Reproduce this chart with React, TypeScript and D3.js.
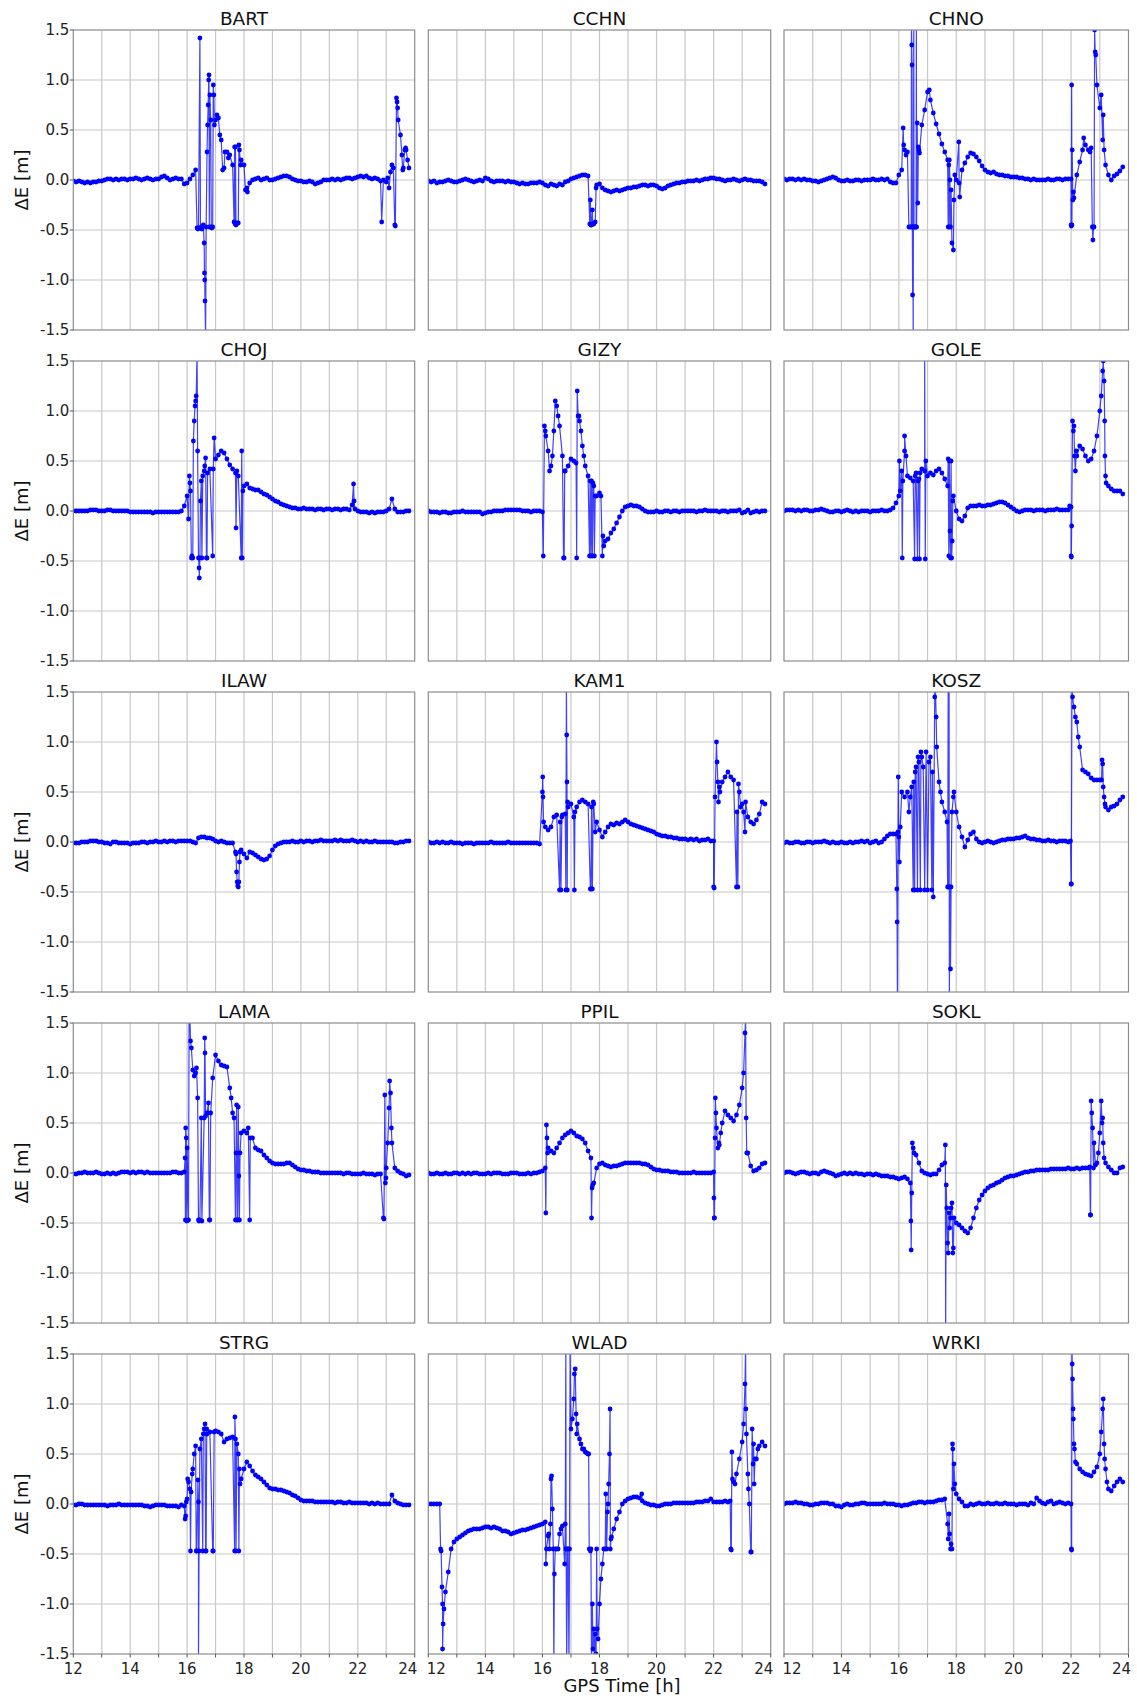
import React from 'react';
import * as d3 from 'd3';

// GNSS east-component residuals, one panel per station.
// Base series sampled every 0.1 h from 12.0 h to 23.8 h (values in cm),
// extra points (t [h], cm) hold spikes / outliers read from the plot.

const stations = ['BART', 'CCHN', 'CHNO', 'CHOJ', 'GIZY', 'GOLE', 'ILAW', 'KAM1', 'KOSZ', 'LAMA', 'PPIL', 'SOKL', 'STRG', 'WLAD', 'WRKI'];

const bartBase = [-1,-2,-1,-2,-3,-2,-3,-2,-2,-1, -1,0,1,1,0,1,0,1,1,0, 1,1,2,1,0,1,2,1,0,1, 1,3,4,2,0,1,2,1,1,-4,
  -3,1,5,10,-48,-47,-63,28,85,-47, 60,62,40,12,28,25,15,33,-43,20, 15,-8,-3,0,1,2,0,1,2,0, 0,1,2,3,4,4,3,1,0,-1,
  -1,-2,-2,-1,-2,-4,-3,-2,0,0, 0,1,0,1,0,1,2,2,1,2, 3,4,3,4,2,1,2,1,-1,0, -2,-8,15,-45,72,45,12,30,12];
const bartExtra = [[16.35,-48],[16.38,-49],[16.45,142],[16.47,-48],[16.52,-49],[16.57,-45],[16.61,-93],[16.62,-100],[16.63,-121],[16.65,-160],
  [16.67,-47],[16.72,55],[16.74,75],[16.76,100],[16.77,105],[16.78,-47],[16.83,60],[16.85,-47],[16.87,-48],[16.92,95],[16.94,85],[16.96,55],
  [17.05,65],[17.15,45],[17.25,10],[17.33,28],[17.45,22],[17.65,-42],[17.67,33],[17.69,-44],[17.72,-45],[17.75,-43],[17.82,35],[17.84,30],
  [17.88,15],[18.05,-10],[18.12,-12],[22.84,-42],[23.05,2],[23.15,8],[23.25,12],[23.32,-46],[23.36,82],[23.38,78],[23.42,60],[23.55,25],
  [23.58,10],[23.65,30],[23.68,32],[23.75,20]];

const cchnBase = [-1,-2,-1,-3,-2,-2,-1,0,-1,-2, -2,-1,0,1,0,-1,-2,-1,0,-1, 2,1,-1,-2,-1,-1,-1,-2,-1,-2, -2,-3,-4,-3,-4,-4,-3,-3,-3,-2,
  -3,-5,-6,-4,-5,-6,-4,-5,-2,-1, 1,2,3,4,5,5,4,-45,-44,-5, -4,-8,-10,-11,-12,-11,-10,-11,-10,-9, -8,-8,-7,-7,-6,-5,-5,-6,-5,-5,
  -6,-8,-9,-8,-6,-5,-4,-3,-3,-2, -2,-1,-1,-1,0,-1,0,1,1,2, 2,1,1,0,-1,0,0,1,0,-1, 0,1,0,0,-1,-1,-1,-2,-4];
const cchnExtra = [[17.66,-44],[17.68,-20],[17.72,-45],[17.75,-30],[17.76,-44],[17.85,-42],[17.88,-8]];

const chnoBase = [1,0,1,1,0,1,0,1,0,0, -1,-1,-2,-1,0,1,2,3,2,0, -1,-1,0,-1,-1,0,0,-1,0,0, 0,1,0,0,1,0,1,-2,-3,-3,
  5,10,30,28,-47,-160,-47,30,55,70, 88,80,67,56,46,36,28,20,-47,-70, 0,-3,10,17,23,27,26,23,19,14, 10,8,7,8,6,5,5,4,4,3,
  3,3,2,2,1,1,0,1,0,0, 0,0,1,0,0,1,1,0,1,1, 1,-18,5,18,30,35,30,32,-47,95, 72,40,15,5,0,4,6,9,13];
const chnoExtra = [[16.15,52],[16.17,35],[16.25,25],[16.35,-47],[16.43,-47],[16.44,160],[16.45,135],[16.46,115],[16.47,-47],[16.48,-115],
  [16.49,-47],[16.52,160],[16.53,-47],[16.55,-47],[16.58,-47],[16.61,160],[16.62,-47],[16.64,57],[16.66,-23],[16.68,33],[16.72,27],[17.06,90],
  [17.72,-47],[17.74,15],[17.75,-47],[17.76,20],[17.78,0],[17.82,-10],[17.85,-63],[17.92,-20],[17.95,5],[18.09,38],[18.12,-17],
  [22.0,-45],[22.01,-46],[22.02,95],[22.03,-45],[22.04,30],[22.06,-20],[22.08,-12],[22.44,42],[22.66,28],[22.74,-47],[22.76,-60],[22.78,-47],
  [22.82,150],[22.84,128],[22.86,125],[23.05,85],[23.12,65],[23.15,30]];

const chojBase = [0,0,0,0,0,0,1,1,1,0, 0,0,1,1,0,0,0,0,0,0, -1,-1,-1,-1,-1,-1,-1,-1,-2,-1, -1,-1,-1,-1,-1,-1,-1,-1,0,5,
  15,28,-47,110,-47,30,40,-47,42,-45, 52,56,60,58,52,46,42,38,35,-47, 25,27,23,22,21,21,19,17,16,14, 12,10,9,7,6,5,4,3,3,2,
  2,3,2,2,2,1,2,2,1,2, 2,1,2,2,1,2,2,1,6,2, 0,-1,-1,-1,-2,-1,-2,-1,-1,-1, 0,2,12,2,-1,-1,-1,0,0];
const chojExtra = [[16.05,-8],[16.08,35],[16.12,20],[16.15,-47],[16.17,-45],[16.22,70],[16.25,90],[16.28,105],[16.32,115],[16.35,160],
  [16.37,60],[16.42,-57],[16.43,-67],[16.45,-47],[16.47,10],[16.52,-47],[16.55,35],[16.62,45],[16.65,53],[16.68,-47],[16.72,38],[16.92,42],
  [16.95,73],[17.72,-17],[17.75,40],[17.92,60],[17.94,-47],[17.96,20],[21.85,27],[21.87,10]];

const gizyBase = [0,-1,-1,-1,-2,-1,-1,-2,-2,-1, -1,-1,0,-1,-1,-1,-1,-1,-1,-3, -2,-1,-1,0,0,0,0,1,1,1, 1,1,1,0,0,0,-1,0,0,0,
  -1,80,60,45,80,105,85,55,40,45, 52,50,-47,90,65,45,35,-45,25,15, 18,-45,-30,-28,-22,-18,-12,-6,0,4, 5,6,5,5,4,2,0,-1,-1,-1,
  0,-1,-1,0,0,-1,0,0,-1,0, 0,0,0,0,-1,0,0,1,0,0, 0,0,-1,0,0,-1,0,0,0,1, -2,-1,1,-2,-1,0,-1,0,0];
const gizyExtra = [[16.03,-45],[16.07,85],[16.12,75],[16.25,40],[16.35,55],[16.45,110],[16.55,95],[16.74,-47],[16.76,-47],[16.78,40],
  [17.18,48],[17.22,120],[17.25,95],[17.28,95],[17.35,80],[17.45,55],[17.65,-45],[17.67,30],[17.72,30],[17.75,-45],[17.77,28],[17.82,-45],
  [17.85,15],[18.05,15],[18.12,-25],[18.15,-35]];

const goleBase = [0,1,1,1,0,1,0,1,1,0, 0,1,1,2,1,0,-1,-1,0,0, -1,0,1,0,-1,0,-1,0,0,0, -1,0,0,0,1,0,0,1,3,8,
  15,40,60,35,33,30,38,32,42,40, 35,38,36,40,42,38,32,25,-47,15, 0,-8,-10,-5,3,5,5,5,6,5, 5,6,6,7,8,9,9,8,6,4,
  2,0,-1,0,1,1,1,0,1,1, 1,0,1,1,1,2,1,1,1,1, 4,85,55,65,62,55,50,52,60,75, 100,140,35,25,22,20,20,20,17];
const goleExtra = [[16.02,50],[16.05,20],[16.12,-47],[16.14,30],[16.2,75],[16.25,55],[16.55,-48],[16.57,35],[16.65,-48],[16.67,30],
  [16.72,-48],[16.74,38],[16.9,160],[16.92,-48],[16.94,50],[17.72,52],[17.74,-45],[17.76,50],[17.78,-20],[17.82,50],[17.84,-47],[17.86,-30],
  [17.88,10],[21.95,5],[22.0,-45],[22.01,-46],[22.02,-15],[22.05,90],[22.08,80],[22.12,55],[22.15,40],[22.18,60],[23.05,115],[23.12,150],
  [23.15,130],[23.17,90],[23.18,55],[23.22,28]];

const ilawBase = [-1,-1,-1,0,0,0,1,1,1,0, 0,-1,-1,-2,0,0,-1,-1,-1,-1, -2,-1,-1,-1,0,0,-1,0,0,1, 0,0,1,0,1,1,0,1,1,1,
  1,1,0,-1,4,5,5,4,4,3, 1,0,1,0,-1,-1,-1,-10,-45,-8, -12,-16,-10,-11,-13,-15,-17,-18,-17,-14, -8,-4,-2,-1,0,0,0,1,0,0,
  1,0,1,1,0,1,1,2,1,1, 1,1,2,1,2,1,1,1,2,1, 0,1,0,1,0,0,1,0,0,0, 0,0,0,-1,-1,0,0,1,1];
const ilawExtra = [[17.72,-12],[17.74,-30],[17.76,-40],[17.78,-44],[17.82,-40],[17.84,-20],[17.86,-10]];

const kam1Base = [0,-1,-1,0,-1,0,-1,-1,0,-1, -1,-1,-2,-1,-1,-1,-2,-1,-1,-1, -1,-1,0,-1,-1,-1,-1,-1,0,-1, -1,-1,-1,-1,-1,-1,-1,-1,-1,-2,
  50,15,12,15,25,27,-48,27,28,35, 38,25,35,40,42,40,38,-47,38,20, 12,5,10,15,18,17,19,18,20,22, 20,18,17,16,15,14,13,12,11,10,
  8,7,6,6,5,5,4,4,3,3, 3,2,3,2,3,1,2,2,3,1, 1,100,55,60,65,70,65,62,-45,50, 38,10,25,20,18,22,28,40,38];
const kam1Extra = [[16.01,65],[16.02,45],[16.04,20],[16.62,20],[16.65,-48],[16.68,25],[16.82,-48],[16.84,160],[16.85,107],[16.86,60],
  [16.87,-48],[16.88,40],[17.12,-48],[17.14,30],[17.68,-47],[17.72,35],[17.75,-47],[17.78,40],[17.85,10],[22.0,-45],[22.02,-46],[22.05,45],
  [22.12,80],[22.15,60],[22.17,40],[22.22,50],[22.82,30],[22.85,-45],[22.87,58],[22.95,35],[23.05,30],[23.12,40]];

const koszBase = [-1,0,-1,-1,0,0,-1,-1,0,0, -1,0,0,0,1,0,-1,0,-1,-1, 0,-1,-1,0,-1,0,0,1,0,1, -1,0,1,-1,0,3,6,8,8,8,
  5,50,45,50,45,-48,75,80,85,-48, -48,85,-55,125,60,40,30,-45,-127,45, 30,15,5,-5,2,8,10,3,0,-1, 0,1,0,-1,0,1,2,2,3,3,
  3,4,4,5,6,4,3,3,2,2, 1,1,2,1,1,0,1,1,1,0, -42,135,120,95,72,70,68,64,62,62, 62,78,35,32,35,36,38,42,45];
const koszExtra = [[15.93,-47],[15.94,-80],[15.95,-160],[15.97,10],[15.98,65],[16.02,-20],[16.05,15],[16.35,30],[16.45,55],[16.52,60],
  [16.55,-48],[16.57,70],[16.65,-48],[16.67,85],[16.75,-48],[16.77,90],[16.85,75],[16.95,90],[17.05,80],[17.15,-48],[17.17,70],[17.25,145],
  [17.27,160],[17.32,95],[17.45,50],[17.68,20],[17.72,160],[17.73,-45],[17.75,160],[17.76,-160],[17.78,-45],[17.82,-45],[17.85,30],
  [17.92,50],[21.98,1],[22.01,-42],[22.03,160],[22.05,145],[22.15,125],[22.25,105],[23.06,62],[23.08,82],[23.12,55],[23.15,45],[23.18,38]];

const lamaBase = [-1,-1,0,0,1,0,0,0,1,0, -1,-1,0,-1,0,-1,0,1,1,1, 0,1,0,1,1,0,1,0,0,0, 0,0,0,0,0,1,1,0,0,1,
  25,155,103,100,-47,55,55,60,-47,95, 118,112,108,107,106,85,60,-47,66,40, 42,40,-47,35,25,23,22,18,15,12, 10,9,9,9,9,10,10,8,6,4,
  3,3,2,2,1,1,1,0,0,0, 0,0,0,0,0,-1,0,0,-1,-1, -1,-1,0,-1,-1,-1,-2,-1,-1,-45, 5,65,30,5,2,0,-1,-3,-2];
const lamaExtra = [[15.93,15],[15.94,-47],[15.95,45],[15.97,35],[15.99,-48],[16.05,-47],[16.07,160],[16.12,132],[16.15,125],[16.25,97],
  [16.33,105],[16.37,75],[16.42,-48],[16.45,-47],[16.52,-48],[16.62,135],[16.63,120],[16.65,57],[16.75,70],[16.78,-47],[16.83,60],[17.55,75],
  [17.65,55],[17.72,20],[17.74,68],[17.76,-47],[17.78,-47],[17.82,-3],[17.84,-47],[17.86,20],[18.15,45],[18.22,35],[22.92,-46],[22.95,78],
  [22.97,-10],[22.99,-5],[23.05,30],[23.12,92],[23.15,80],[23.18,45]];

const ppilBase = [0,-1,-1,0,-1,-1,0,-1,-1,0, 0,-1,0,-1,0,-1,0,0,-1,-1, -1,0,-1,0,0,0,-1,-1,-1,0, 0,0,-1,-1,-1,0,-1,0,0,1,
  2,5,25,22,20,25,30,35,38,40, 42,40,37,36,34,30,22,15,-10,5, 9,10,8,7,6,7,7,8,9,10, 10,10,10,10,10,9,9,8,6,4,
  3,3,2,2,2,1,1,1,0,0, 0,0,0,1,0,0,0,0,0,0, 1,45,28,50,62,58,55,52,58,68, 85,140,20,7,2,3,5,9,10];
const ppilExtra = [[16.12,-40],[16.14,48],[16.16,35],[16.18,20],[17.72,-45],[17.74,-15],[17.76,-12],[22.01,-25],[22.02,-45],[22.03,-45],
  [22.05,35],[22.06,75],[22.08,60],[22.15,25],[22.18,30],[22.25,40],[23.05,100],[23.12,155],[23.14,55],[23.16,20]];

const soklBase = [0,1,1,0,-1,0,1,1,0,-1, 0,0,-1,1,2,1,0,-1,-3,-2, -1,0,-1,0,-1,0,-1,-1,-2,-1, -1,-2,-1,-2,-3,-3,-3,-4,-4,-5,
  -6,-5,-4,-6,-10,25,18,10,2,0, -1,-2,-1,-1,3,8,10,-70,-45,-75, -50,-52,-55,-58,-60,-55,-45,-35,-27,-22, -18,-15,-13,-12,-10,-9,-7,-5,-4,-3,
  -3,-2,-1,0,1,1,2,2,3,3, 3,3,3,4,4,4,4,4,4,5, 4,4,5,4,5,5,5,72,30,10, 40,55,10,6,3,0,0,5,6];
const soklExtra = [[16.42,-48],[16.43,-77],[16.45,-20],[16.47,30],[16.53,20],[17.62,28],[17.63,-160],[17.65,-12],[17.67,-35],[17.72,-80],
  [17.75,-40],[17.77,-55],[17.82,-35],[17.85,-30],[17.88,-80],[17.92,-45],[22.65,6],[22.67,-42],[22.68,-42],[22.72,60],[22.75,45],[22.78,5],
  [22.85,8],[22.95,20],[23.05,72],[23.08,50],[23.12,30],[23.15,15]];

const strgBase = [-1,-1,0,0,-1,-1,-1,-1,-1,-1, -1,-1,-2,-1,-1,-1,0,-1,-1,-1, -1,-1,-1,-1,-1,-2,-2,-3,-2,-1, -1,-1,-1,-2,-2,-2,-2,-3,-1,-2,
  5,15,35,58,2,65,75,70,72,-47, 73,72,70,62,65,66,67,65,50,25, 35,42,38,33,29,27,25,22,19,16, 15,15,14,14,13,12,11,9,8,6,
  4,3,3,3,3,2,2,2,2,2, 2,2,1,2,2,1,1,2,1,1, 1,1,1,1,0,1,0,1,0,0, 0,0,9,3,1,0,-1,-1,-1];
const strgExtra = [[15.93,-15],[15.95,-12],[15.97,2],[16.02,25],[16.05,22],[16.12,-47],[16.14,12],[16.18,30],[16.25,50],[16.32,-47],
  [16.34,-47],[16.38,24],[16.4,-160],[16.42,-47],[16.45,55],[16.55,-47],[16.57,70],[16.63,80],[16.65,-47],[16.67,-47],[16.69,75],[16.92,-47],
  [16.95,72],[17.67,-47],[17.68,87],[17.72,-47],[17.75,60],[17.82,-47],[17.84,35],[17.86,20]];

const wladBase = [0,0,0,0,0,-100,-88,-68,-45,-38, -35,-33,-31,-29,-27,-26,-25,-25,-25,-24, -23,-23,-24,-23,-24,-25,-27,-27,-28,-30,
  -29,-28,-27,-26,-26,-25,-24,-23,-22,-21, -20,-18,-32,25,-160,-45,-30,-22,-20,-45, 75,105,70,65,55,52,50,-45,-125,-45,
  -100,-60,-45,0,-35,-25,-15,-8,0,3, 5,6,7,7,6,3,1,0,-1,-1, -2,-2,-1,0,0,0,1,1,1,1, 1,1,1,1,2,2,2,3,3,5,
  2,2,2,2,3,2,-45,22,30,45, 62,120,30,-48,60,45,58,62,58];
const wladExtra = [[12.43,-45],[12.45,-47],[12.48,-83],[12.5,-145],[12.52,-120],[12.55,-105],[16.12,-60],[16.14,-45],[16.22,-30],[16.25,-45],
  [16.28,-20],[16.32,28],[16.35,-5],[16.38,-45],[16.42,-70],[16.45,-45],[16.55,-45],[16.65,-25],[16.78,-60],[16.82,160],[16.83,-45],
  [16.85,-160],[16.88,-45],[16.93,-160],[16.95,-45],[16.97,160],[17.05,85],[17.12,130],[17.15,135],[17.18,90],[17.22,80],[17.35,60],
  [17.45,55],[17.55,51],[17.62,50],[17.64,-45],[17.68,-47],[17.72,-160],[17.75,-100],[17.77,-145],[17.82,-160],[17.85,-130],[17.88,-150],
  [17.92,-125],[17.95,-135],[18.05,-75],[18.15,-45],[18.22,10],[18.25,-45],[18.28,-8],[18.32,20],[18.35,50],[18.37,95],[18.38,-45],
  [18.42,-33],[19.48,10],[22.58,3],[22.62,-46],[22.64,52],[22.66,25],[22.75,20],[23.05,80],[23.12,160],[23.13,95],[23.15,70],[23.22,15],
  [23.25,0],[23.32,-48],[23.35,75],[23.38,40],[23.42,20],[23.45,45],[23.55,55]];

const wrkiBase = [0,1,1,1,2,1,1,0,0,-1, -1,0,0,1,1,1,0,0,-2,-2, -3,-1,0,-1,-1,0,0,1,1,0, 0,0,0,0,0,1,0,0,0,-1,
  -1,-2,-1,-1,0,1,1,2,2,1, 2,2,2,3,4,4,5,-20,-45,15, 10,5,2,-2,-2,0,-1,0,1,0, 0,1,0,0,1,0,0,1,0,0,
  0,-1,0,0,0,-1,1,0,6,3, 1,0,2,3,0,1,2,1,0,1, 0,60,40,35,32,30,29,28,32,37, 50,95,35,15,13,18,22,25,22];
const wrkiExtra = [[17.72,-35],[17.75,-10],[17.77,-30],[17.82,-40],[17.85,-45],[17.87,60],[17.88,55],[17.92,40],[17.95,20],[22.01,-45],
  [22.02,-46],[22.03,160],[22.04,140],[22.05,125],[22.07,95],[22.08,85],[22.12,55],[22.15,42],[23.05,72],[23.12,105],[23.15,60],[23.17,45],
  [23.25,22]];

const seriesBase = [bartBase, cchnBase, chnoBase, chojBase, gizyBase, goleBase, ilawBase, kam1Base, koszBase, lamaBase, ppilBase, soklBase, strgBase, wladBase, wrkiBase];
const seriesExtra = [bartExtra, cchnExtra, chnoExtra, chojExtra, gizyExtra, goleExtra, ilawExtra, kam1Extra, koszExtra, lamaExtra, ppilExtra, soklExtra, strgExtra, wladExtra, wrkiExtra];

const xTicks = [12, 14, 16, 18, 20, 22, 24];
const yTicks = [1.5, 1.0, 0.5, 0.0, -0.5, -1.0, -1.5];

const colLeft = [73.3, 428.3, 784];
const colWidth = [341.4, 342.4, 344.5];
const rowTop = 30;
const rowStep = 331;
const panelH = 300;

const FONT = 'DejaVu Sans, sans-serif';
const BLUE = '#0000ff';

function buildSeries(base: number[], extra: number[][]) {
  const pts = base.map((v, i) => ({ t: 12 + i / 10, v: v / 100 }));
  extra.forEach(([t, v]) => pts.push({ t, v: v / 100 }));
  return pts.sort((a, b) => a.t - b.t);
}

// nudge the end labels so neighbouring panels' "24" and "12" don't collide
function tickShift(t: number, col: number) {
  if (t === 24) return -7;
  if (t === 12 && col > 0) return 8;
  return 0;
}

const Panel = ({ idx }: { idx: number }) => {
  const col = idx % 3;
  const row = Math.floor(idx / 3);
  const w = colWidth[col];
  const h = panelH;
  const x0 = colLeft[col];
  const y0 = rowTop + row * rowStep;
  const name = stations[idx];

  const x = d3.scaleLinear().domain([12, 24]).range([0, w]);
  const y = d3.scaleLinear().domain([-1.5, 1.5]).range([h, 0]);
  const data = buildSeries(seriesBase[idx], seriesExtra[idx]);
  const line = d3.line<{ t: number; v: number }>().x(d => x(d.t)).y(d => y(d.v));

  const hours = d3.range(13, 24);
  const hGrid = [-1.0, -0.5, 0, 0.5, 1.0];

  return (
    <g transform={`translate(${x0},${y0})`}>
      <defs>
        <clipPath id={`clip-${name}`}>
          <rect x={0} y={0} width={w} height={h} />
        </clipPath>
      </defs>
      {hours.map(hr => (
        <line key={'v' + hr} x1={x(hr)} x2={x(hr)} y1={0} y2={h} stroke="#c8c8c8" strokeWidth={1.2} />
      ))}
      {hGrid.map(g => (
        <line key={'h' + g} x1={0} x2={w} y1={y(g)} y2={y(g)} stroke="#c8c8c8" strokeWidth={1.2} />
      ))}
      <g clipPath={`url(#clip-${name})`}>
        <path d={line(data) || ''} fill="none" stroke={BLUE} strokeWidth={1.2} strokeOpacity={0.75} />
        {data.map((d, i) => (
          <circle key={i} cx={x(d.t)} cy={y(d.v)} r={2.4} fill={BLUE} />
        ))}
      </g>
      <rect x={0} y={0} width={w} height={h} fill="none" stroke="#8c8c8c" strokeWidth={1.2} />
      <text x={w / 2} y={-5} textAnchor="middle" fontFamily={FONT} fontSize={18.5} fill="#111">{name}</text>
      {col === 0 && (
        <g>
          {yTicks.map(t => (
            <g key={t}>
              <line x1={-3.5} x2={0} y1={y(t)} y2={y(t)} stroke="#555" strokeWidth={1} />
              <text x={-4} y={y(t)} dy="0.36em" textAnchor="end" fontFamily={FONT} fontSize={15} fill="#222">{t.toFixed(1)}</text>
            </g>
          ))}
          <text transform={`translate(${28 - x0},${h / 2}) rotate(-90)`} textAnchor="middle" fontFamily={FONT} fontSize={18} fill="#111">ΔE [m]</text>
        </g>
      )}
      {row === 4 && (
        <g>
          {d3.range(12, 25).map(t => (
            <line key={'t' + t} x1={x(t)} x2={x(t)} y1={h} y2={h + 3.5} stroke="#555" strokeWidth={1} />
          ))}
          {xTicks.map(t => (
            <text key={t} x={x(t) + tickShift(t, col)} y={h + 20} textAnchor="middle" fontFamily={FONT} fontSize={15} fill="#222">{t}</text>
          ))}
        </g>
      )}
    </g>
  );
};

export default function App() {
  return (
    <div style={{ position: 'absolute', left: 0, top: 0 }}>
      <svg width={1137} height={1699} style={{ display: 'block', background: '#fff' }}>
        {stations.map((s, i) => (
          <Panel key={s} idx={i} />
        ))}
        <text x={622} y={1692} textAnchor="middle" fontFamily={FONT} fontSize={18} fill="#111">GPS Time [h]</text>
      </svg>
    </div>
  );
}
